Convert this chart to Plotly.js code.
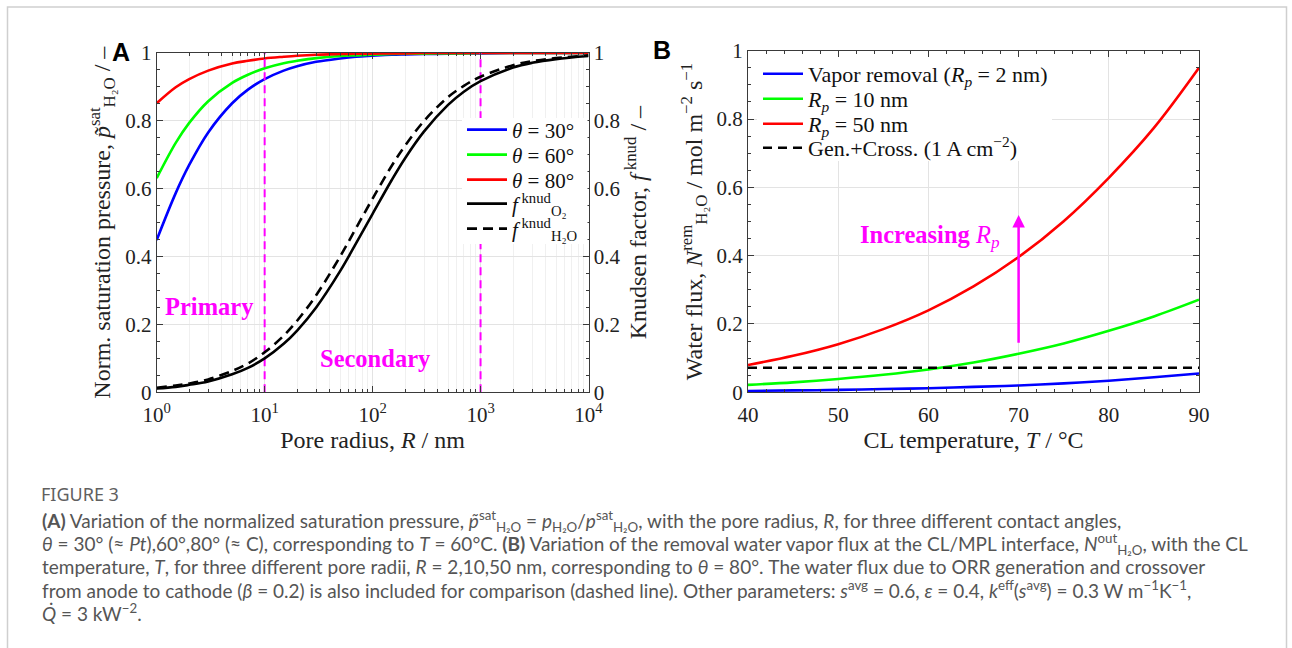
<!DOCTYPE html>
<html>
<head>
<meta charset="utf-8">
<script src="https://cdn.plot.ly/plotly-3.0.1.min.js"></script>
<style>html,body{margin:0;padding:0;background:#fff;}#chart{width:1292px;height:648px;}</style>
</head>
<body>
<div id="chart"></div>
<script>
// ---------- Panel A data ----------
const poreRadius = [1,1.5,2,3,5,7,10,15,20,30,50,70,100,150,200,300,500,700,1000,2000,3000,5000,10000];
const pSat30 = [0.449,0.587,0.670,0.766,0.852,0.892,0.923,0.948,0.961,0.974,0.984,0.989,0.992,0.995,0.996,0.997,0.998,0.999,0.999,1.0,1.0,1.0,1.0];
const pSat60 = [0.631,0.735,0.794,0.858,0.912,0.936,0.955,0.970,0.977,0.985,0.991,0.993,0.995,0.997,0.998,0.998,0.999,0.999,1.0,1.0,1.0,1.0,1.0];
const pSat80 = [0.852,0.899,0.923,0.948,0.969,0.977,0.984,0.989,0.992,0.995,0.997,0.998,0.998,0.999,0.999,1.0,1.0,1.0,1.0,1.0,1.0,1.0,1.0];
const fKnudO2 = [0.011,0.016,0.022,0.032,0.053,0.072,0.100,0.143,0.182,0.250,0.357,0.438,0.526,0.625,0.690,0.769,0.847,0.886,0.917,0.957,0.971,0.982,0.991];
const fKnudH2O = [0.013,0.020,0.026,0.038,0.063,0.085,0.118,0.167,0.211,0.286,0.400,0.483,0.571,0.667,0.727,0.800,0.870,0.903,0.930,0.964,0.976,0.985,0.993];
const regionBounds = [10, 1000];
const regionSpan = [0, 1];
const logTickVals = [1,10,100,1000,10000];
const logTickText = ['10<sup>0</sup>','10<sup>1</sup>','10<sup>2</sup>','10<sup>3</sup>','10<sup>4</sup>'];
const unitTickVals = [0,0.2,0.4,0.6,0.8,1];
const unitTickText = ['0','0.2','0.4','0.6','0.8','1'];
const legendA = ['<i>θ</i> = 30°','<i>θ</i> = 60°','<i>θ</i> = 80°','<i>f</i><sup> knud</sup><sub>O₂</sub>','<i>f</i><sup> knud</sup><sub>H₂O</sub>'];

// ---------- Panel B data ----------
const clTemp = [40,45,50,55,60,65,70,75,80,85,90];
const fluxR2 = [0.004,0.0055,0.007,0.0095,0.012,0.016,0.020,0.026,0.034,0.044,0.055];
const fluxR10 = [0.0216,0.0292,0.039,0.0513,0.0669,0.0872,0.113,0.143,0.180,0.222,0.271];
const fluxR50 = [0.080,0.107,0.141,0.185,0.240,0.310,0.396,0.501,0.628,0.774,0.950];
const genTemp = [40,90];
const genCross = [0.072,0.072];
const tempTickVals = [40,50,60,70,80,90];
const tempTickText = ['40','50','60','70','80','90'];
const legendB = ['Vapor removal (<i>R<sub>p</sub></i> = 2 nm)','<i>R<sub>p</sub></i> = 10 nm','<i>R<sub>p</sub></i> = 50 nm','Gen.+Cross. (1 A cm<sup>−2</sup>)'];
const arrowT = 70, arrowFrom = 0.141, arrowTo = 0.519;

// ---------- styling ----------
const W = 1292, H = 648;
const SERIF = 'Liberation Serif, Times New Roman, serif';
const AX = '#3a3a3a';
const GRID = '#e3e3e3', MGRID = '#f0f0f0';
const px = v => v / W, py = v => 1 - v / H;

const lw = 2.6;
const traces = [
  {x: poreRadius, y: pSat30, name: legendA[0], line:{color:'#0000ff', width:lw, shape:'spline'}, xaxis:'x', yaxis:'y', legend:'legend', mode:'lines'},
  {x: poreRadius, y: pSat60, name: legendA[1], line:{color:'#00ff00', width:lw, shape:'spline'}, xaxis:'x', yaxis:'y', legend:'legend2', mode:'lines'},
  {x: poreRadius, y: pSat80, name: legendA[2], line:{color:'#ff0000', width:lw, shape:'spline'}, xaxis:'x', yaxis:'y', legend:'legend3', mode:'lines'},
  {x: poreRadius, y: fKnudO2, name: legendA[3], line:{color:'#000000', width:lw, shape:'spline'}, xaxis:'x', yaxis:'y2', legend:'legend4', mode:'lines'},
  {x: poreRadius, y: fKnudH2O, name: legendA[4], line:{color:'#000000', width:lw, dash:'10px,6px', shape:'spline'}, xaxis:'x', yaxis:'y2', legend:'legend5', mode:'lines'},
  {x: [regionBounds[0], regionBounds[0]], y: regionSpan, showlegend:false, line:{color:'#ff00ff', width:2, dash:'8px,5px'}, xaxis:'x', yaxis:'y', mode:'lines', hoverinfo:'skip'},
  {x: [regionBounds[1], regionBounds[1]], y: regionSpan, showlegend:false, line:{color:'#ff00ff', width:2, dash:'8px,5px'}, xaxis:'x', yaxis:'y', mode:'lines', hoverinfo:'skip'},

  {x: clTemp, y: fluxR2, name: legendB[0], line:{color:'#0000ff', width:lw, shape:'spline'}, xaxis:'x2', yaxis:'y3', legend:'legend6', mode:'lines'},
  {x: clTemp, y: fluxR10, name: legendB[1], line:{color:'#00ff00', width:lw, shape:'spline'}, xaxis:'x2', yaxis:'y3', legend:'legend7', mode:'lines'},
  {x: clTemp, y: fluxR50, name: legendB[2], line:{color:'#ff0000', width:lw, shape:'spline'}, xaxis:'x2', yaxis:'y3', legend:'legend8', mode:'lines'},
  {x: genTemp, y: genCross, name: legendB[3], line:{color:'#000000', width:lw, dash:'9px,6px'}, xaxis:'x2', yaxis:'y3', legend:'legend9', mode:'lines'}
];

const tickFont = {family: SERIF, size: 21, color: '#222'};
const titleFont = {family: SERIF, size: 24, color: '#222'};
const baseAxis = {
  showline:true, linecolor:AX, linewidth:1, ticks:'inside', ticklen:6, tickcolor:AX,
  tickfont:tickFont, zeroline:false, automargin:false, showgrid:true, gridcolor:GRID, gridwidth:1
};

const yDomA = [py(392.3), py(53)];
const yDomB = [py(392.3), py(50.7)];

function legendAt(xPx, yPx, size) {
  return {x:px(xPx), y:py(yPx), xanchor:'left', yanchor:'middle', bgcolor:'rgba(255,255,255,0)', borderwidth:0,
          font:{family:SERIF, size:size, color:'#111'}, tracegroupgap:0, itemwidth:40};
}

const capFont = {family:'Lato, sans-serif', size:19, color:'#555'};
function capLine(yPx, text) {
  return {xref:'paper', yref:'paper', x:px(40), y:py(yPx), xanchor:'left', yanchor:'middle', showarrow:false, align:'left', text:text, font:capFont};
}

const layout = {
  width: W, height: H,
  margin: {l:0, r:0, t:0, b:0},
  paper_bgcolor:'#ffffff', plot_bgcolor:'#ffffff',
  showlegend:true,
  xaxis: Object.assign({}, baseAxis, {
    domain:[px(156.7), px(588.5)], anchor:'y', type:'log', range:[0,4],
    tickvals: logTickVals, ticktext: logTickText, mirror:'ticks', ticklabelstandoff:3,
    minor:{dtick:'D1', ticks:'inside', ticklen:3, tickcolor:AX, showgrid:true, gridcolor:MGRID},
    title:{text:'Pore radius, <i>R</i> / nm', font:titleFont, standoff:5}
  }),
  yaxis: Object.assign({}, baseAxis, {
    domain:yDomA, anchor:'x', range:[0,1], tickvals: unitTickVals, ticktext: unitTickText,
    minor:{dtick:0.05, ticks:'inside', ticklen:3, tickcolor:AX},
    title:{text:'Norm. saturation pressure, <i>p̃</i><sup>sat</sup><sub>H₂O</sub> / –', font:titleFont, standoff:7}
  }),
  yaxis2: Object.assign({}, baseAxis, {
    domain:yDomA, anchor:'x', overlaying:'y', side:'right', range:[0,1], showgrid:false,
    tickvals: unitTickVals, ticktext: unitTickText,
    minor:{dtick:0.05, ticks:'inside', ticklen:3, tickcolor:AX},
    title:{text:'Knudsen factor, <i>f</i><sup> knud</sup> / –', font:titleFont, standoff:9}
  }),
  xaxis2: Object.assign({}, baseAxis, {
    domain:[px(748), px(1199)], anchor:'y3', range:[40,90], mirror:'ticks', ticklabelstandoff:3,
    tickvals: tempTickVals, ticktext: tempTickText,
    minor:{dtick:2, ticks:'inside', ticklen:3, tickcolor:AX},
    title:{text:'CL temperature, <i>T</i> / °C', font:titleFont, standoff:5}
  }),
  yaxis3: Object.assign({}, baseAxis, {
    domain:yDomB, anchor:'x2', range:[0,1], mirror:'ticks',
    tickvals: unitTickVals, ticktext: unitTickText,
    minor:{dtick:0.05, ticks:'inside', ticklen:3, tickcolor:AX},
    title:{text:'Water flux, <i>N</i><sup>rem</sup><sub>H₂O</sub> / mol m<sup>−2</sup> s<sup>−1</sup>', font:titleFont, standoff:7}
  }),
  legend: legendAt(462, 130, 21),
  legend2: legendAt(462, 155, 21),
  legend3: legendAt(462, 180, 21),
  legend4: legendAt(462, 204, 21),
  legend5: legendAt(462, 229, 21),
  legend6: legendAt(758, 74, 22),
  legend7: legendAt(758, 99, 22),
  legend8: legendAt(758, 124, 22),
  legend9: legendAt(758, 148, 22),
  annotations: [
    {xref:'x', yref:'y', x:Math.log10(3.08), y:0.252, text:'<b>Primary</b>', showarrow:false,
     font:{family:SERIF, size:24.5, color:'#ff00ff'}},
    {xref:'x', yref:'y', x:Math.log10(107), y:0.101, text:'<b>Secondary</b>', showarrow:false,
     font:{family:SERIF, size:24.5, color:'#ff00ff'}},
    {xref:'x2', yref:'y3', x:arrowT, y:arrowTo, axref:'x2', ayref:'y3', ax:arrowT, ay:arrowFrom,
     text:'', showarrow:true, arrowhead:2, arrowsize:1, arrowwidth:2.5, arrowcolor:'#ff00ff', standoff:0, startstandoff:0},
    {xref:'x2', yref:'y3', x:60.2, y:0.455, text:'<b>Increasing</b> <i>R<sub>p</sub></i>', showarrow:false,
     font:{family:SERIF, size:24.5, color:'#ff00ff'}},
    {xref:'paper', yref:'paper', x:px(120.7), y:py(51.7), xanchor:'center', yanchor:'middle', text:'<b>A</b>', showarrow:false,
     font:{family:'Liberation Sans, Arial, sans-serif', size:25, color:'#000'}},
    {xref:'paper', yref:'paper', x:px(662), y:py(50.5), xanchor:'center', yanchor:'middle', text:'<b>B</b>', showarrow:false,
     font:{family:'Liberation Sans, Arial, sans-serif', size:25, color:'#000'}},
    {xref:'paper', yref:'paper', x:px(39), y:py(494), xanchor:'left', yanchor:'middle', showarrow:false,
     text:'FIGURE 3', font:{family:'Noto Sans, sans-serif', size:18, color:'#606060'}},
    capLine(521, '<b>(A)</b> Variation of the normalized saturation pressure, <i>p̃</i><sup>sat</sup><sub>H₂O</sub> = <i>p</i><sub>H₂O</sub>/<i>p</i><sup>sat</sup><sub>H₂O</sub>, with the pore radius, <i>R</i>, for three different contact angles,'),
    capLine(544, '<i>θ</i> = 30° (≈ <i>Pt</i>),60°,80° (≈ C), corresponding to <i>T</i> = 60°C. <b>(B)</b> Variation of the removal water vapor flux at the CL/MPL interface, <i>N</i><sup>out</sup><sub>H₂O</sub>, with the CL'),
    capLine(566.5, 'temperature, <i>T</i>, for three different pore radii, <i>R</i> = 2,10,50 nm, corresponding to <i>θ</i> = 80°. The water flux due to ORR generation and crossover'),
    capLine(589, 'from anode to cathode (<i>β</i> = 0.2) is also included for comparison (dashed line). Other parameters: <i>s</i><sup>avg</sup> = 0.6, <i>ε</i> = 0.4, <i>k</i><sup>eff</sup>(<i>s</i><sup>avg</sup>) = 0.3 W m<sup>−1</sup>K<sup>−1</sup>,'),
    capLine(612.5, '<i>Q̇</i> = 3 kW<sup>−2</sup>.')
  ],
  shapes: [
    {type:'rect', xref:'paper', yref:'paper', x0:px(7.5), x1:px(1286.5), y0:-0.1, y1:py(7), line:{color:'#cfcfcf', width:1.5}, fillcolor:'rgba(0,0,0,0)', layer:'below'},
    {type:'rect', xref:'paper', yref:'paper', x0:px(462), x1:px(587.5), y0:py(244), y1:py(118), line:{width:0}, fillcolor:'#ffffff', layer:'above'},
    {type:'rect', xref:'paper', yref:'paper', x0:px(757), x1:px(1052), y0:py(161), y1:py(57), line:{width:0}, fillcolor:'#ffffff', layer:'above'}
  ]
};

Plotly.newPlot('chart', traces, layout, {staticPlot:true, displayModeBar:false});
</script>
</body>
</html>
